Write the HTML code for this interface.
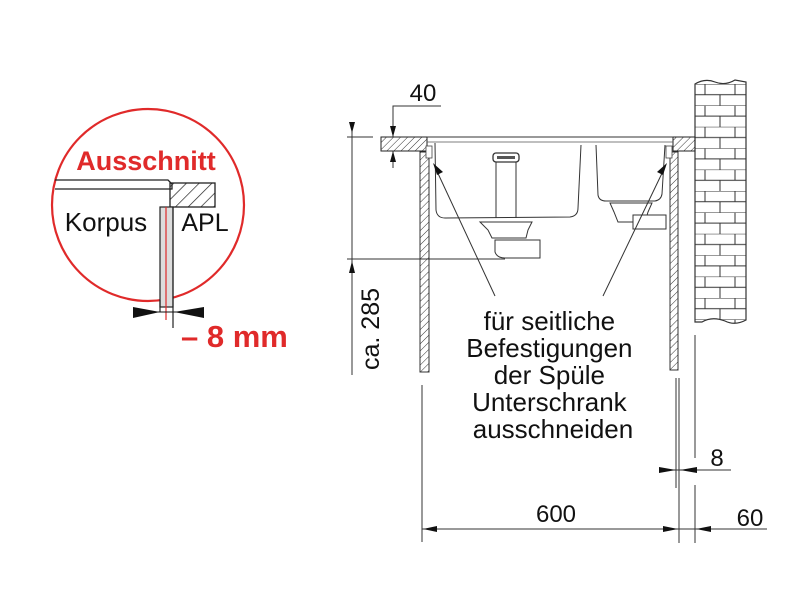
<!DOCTYPE html>
<html><head><meta charset="utf-8"><style>
html,body{margin:0;padding:0;background:#fff;}
svg{display:block;}
text{font-family:"Liberation Sans",Arial,sans-serif;}
</style></head><body>
<svg width="800" height="615" viewBox="0 0 800 615" xmlns="http://www.w3.org/2000/svg">
<defs>
<pattern id="h" patternUnits="userSpaceOnUse" width="5" height="5" patternTransform="rotate(45)">
<line x1="0" y1="0" x2="0" y2="5" stroke="#333" stroke-width="1"/>
</pattern>
<pattern id="h2" patternUnits="userSpaceOnUse" width="9" height="9" patternTransform="rotate(45)">
<line x1="0" y1="0" x2="0" y2="9" stroke="#222" stroke-width="1.4"/>
</pattern>
<pattern id="brick" patternUnits="userSpaceOnUse" x="695" y="84" width="30" height="21.4">
<rect width="30" height="21.4" fill="#fff"/>
<line x1="0" y1="0" x2="30" y2="0" stroke="#333" stroke-width="1"/>
<line x1="0" y1="10.7" x2="30" y2="10.7" stroke="#333" stroke-width="1"/>
<line x1="10" y1="0" x2="10" y2="10.7" stroke="#333" stroke-width="1"/>
<line x1="25" y1="10.7" x2="25" y2="21.4" stroke="#333" stroke-width="1"/>
</pattern>
</defs>

<circle cx="148" cy="205" r="96" fill="none" stroke="#e02a2a" stroke-width="2.2"/>
<text x="146" y="170" font-size="27" font-weight="bold" fill="#e02a2a" text-anchor="middle">Ausschnitt</text>
<path d="M55 180 L168 180 L172 184 L172 189 L55 189" fill="none" stroke="#222" stroke-width="1.3"/>
<rect x="170" y="183" width="45" height="24" fill="url(#h2)" stroke="#222" stroke-width="1.3"/>
<rect x="160" y="207" width="13" height="100" fill="#ddd" stroke="#222" stroke-width="1.2"/>
<line x1="166" y1="207" x2="166" y2="320" stroke="#e02a2a" stroke-width="1.2"/>
<line x1="173" y1="207" x2="173" y2="328" stroke="#222" stroke-width="1.2"/>
<line x1="160" y1="300" x2="160" y2="312" stroke="#222" stroke-width="1.2"/>
<text x="106" y="231" font-size="26" fill="#111" text-anchor="middle">Korpus</text>
<text x="205" y="231" font-size="25" fill="#111" text-anchor="middle">APL</text>
<polygon points="133,307 133,318 160,312" fill="#111"/>
<polygon points="204,307 204,318 174,312" fill="#111"/>
<line x1="133" y1="312" x2="204" y2="312" stroke="#111" stroke-width="1"/>
<text x="181" y="347" font-size="31" font-weight="bold" fill="#e02a2a">– 8 mm</text>

<path d="M695 84 Q705 78 715 82 Q725 86 735 80 L746 82 L746 320 Q735 326 725 321 Q712 316 702 322 L695 322 Z" fill="url(#brick)" stroke="#333" stroke-width="1.2"/>

<rect x="381" y="137" width="46" height="14" fill="url(#h)" stroke="#222" stroke-width="1"/>
<rect x="673" y="137" width="22" height="14" fill="url(#h)" stroke="#222" stroke-width="1"/>
<line x1="427" y1="137" x2="673" y2="137" stroke="#333" stroke-width="1"/>
<line x1="427" y1="142" x2="673" y2="142" stroke="#555" stroke-width="0.8"/>

<rect x="420" y="152" width="9" height="220" fill="url(#h)" stroke="#333" stroke-width="1"/>
<rect x="670" y="152" width="8" height="218" fill="url(#h)" stroke="#333" stroke-width="1"/>
<rect x="426" y="146" width="6" height="12" fill="#fff" stroke="#444" stroke-width="0.8"/>
<rect x="666" y="146" width="6" height="12" fill="#fff" stroke="#444" stroke-width="0.8"/>

<path d="M435 143 L436 210 Q437 218 445 218 L570 217 Q578 216 578 208 L581 145" fill="none" stroke="#333" stroke-width="1"/>
<path d="M596 145 L598 195 Q599 201 606 201 L655 201 Q661 200 662 194 L665 145" fill="none" stroke="#333" stroke-width="1"/>
<rect x="493" y="153" width="26" height="9" rx="3" fill="#fff" stroke="#333" stroke-width="1.3"/>
<rect x="497" y="156" width="18" height="3" fill="#555"/>
<line x1="496" y1="162" x2="496" y2="218" stroke="#333"/>
<line x1="516" y1="162" x2="516" y2="218" stroke="#333"/>
<path d="M480 222 L532 222 L528 230 L526 238 L492 238 L488 230 Z" fill="#fff" stroke="#333"/>
<path d="M495 240 L495 252 Q497 258 505 258 L540 258 L540 240 Z" fill="#fff" stroke="#333"/>
<path d="M610 203 L652 203 L648 212 L645 222 L618 222 L614 212 Z" fill="#fff" stroke="#333"/>
<rect x="633" y="215" width="33" height="14" fill="#fff" stroke="#333"/>

<line x1="435" y1="167" x2="495" y2="296" stroke="#333" stroke-width="1"/>
<polygon points="433,163 443,172 437,175" fill="#111"/>
<line x1="665" y1="167" x2="603" y2="296" stroke="#333" stroke-width="1"/>
<polygon points="667,163 663,175 657,172" fill="#111"/>

<text font-size="26" fill="#111" text-anchor="middle">
<tspan x="553" y="330">für seitliche</tspan>
<tspan x="553" y="357">Befestigungen</tspan>
<tspan x="553" y="384">der Spüle</tspan>
<tspan x="553" y="411">Unterschrank</tspan>
<tspan x="553" y="438">ausschneiden</tspan>
</text>

<text x="423" y="101" font-size="24" fill="#111" text-anchor="middle">40</text>
<polyline points="441,106 393,106 393,137" fill="none" stroke="#333"/>
<polygon points="390,126 396,126 393,137" fill="#111"/>
<line x1="393" y1="151" x2="393" y2="168" stroke="#333"/>
<polygon points="390,162 396,162 393,151" fill="#111"/>

<line x1="347" y1="137" x2="373" y2="137" stroke="#333"/>
<line x1="347" y1="259" x2="505" y2="259" stroke="#333"/>
<line x1="352" y1="122" x2="352" y2="375" stroke="#333"/>
<polygon points="349,122 355,122 352,133" fill="#111"/>
<polygon points="349,273 355,273 352,261" fill="#111"/>
<text x="0" y="0" font-size="25" fill="#111" text-anchor="middle" transform="translate(379,329) rotate(-90)">ca. 285</text>

<line x1="422" y1="385" x2="422" y2="542" stroke="#333"/>
<line x1="676" y1="378" x2="676" y2="488" stroke="#333"/>
<line x1="679" y1="378" x2="679" y2="543" stroke="#333"/>
<line x1="695" y1="335" x2="695" y2="458" stroke="#333"/>
<line x1="695" y1="485" x2="695" y2="543" stroke="#333"/>
<line x1="659" y1="470" x2="731" y2="470" stroke="#333"/>
<polygon points="659,467 659,473 676,470" fill="#111"/>
<polygon points="697,467 697,473 680,470" fill="#111"/>
<text x="717" y="466" font-size="24" fill="#111" text-anchor="middle">8</text>
<line x1="422" y1="529" x2="767" y2="529" stroke="#333"/>
<polygon points="437,526 437,532 423,529" fill="#111"/>
<polygon points="663,526 663,532 678,529" fill="#111"/>
<polygon points="711,526 711,532 696,529" fill="#111"/>
<text x="556" y="522" font-size="24" fill="#111" text-anchor="middle">600</text>
<text x="750" y="526" font-size="24" fill="#111" text-anchor="middle">60</text>
</svg>
</body></html>
